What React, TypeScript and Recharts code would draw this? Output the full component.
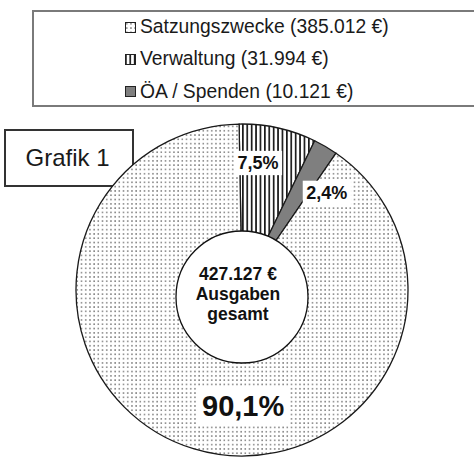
import React from "react";
import { PieChart, Pie, Cell } from "recharts";

// Ausgaben nach Bereich (Euro)
const categories = ["Satzungszwecke", "Verwaltung", "ÖA / Spenden"];
const amounts = [385012, 31994, 10121];
// Reihenfolge im Ring, im Uhrzeigersinn ab 12 Uhr
const ringOrder = ["Verwaltung", "ÖA / Spenden", "Satzungszwecke"];
const centerCaption = ["Ausgaben", "gesamt"];
const badgeTitle = "Grafik 1";

const total = amounts.reduce((s, v) => s + v, 0);

const fmtEuro = (n: number) =>
  String(n).replace(/\B(?=(\d{3})+(?!\d))/g, ".") + " €";

const fills: Record<string, string> = {
  Satzungszwecke: "url(#dots)",
  Verwaltung: "url(#stripes)",
  "ÖA / Spenden": "#7f7f7f",
};

// Lage der Prozentwerte (Winkelversatz zur Sektormitte, Radius, Schriftgröße)
const labelPos: Record<string, { shift: number; r: number; size: number }> = {
  Verwaltung: { shift: 5.3, r: 128, size: 18 },
  "ÖA / Spenden": { shift: -10.9, r: 129, size: 18 },
  Satzungszwecke: { shift: 17.3, r: 116, size: 29 },
};

const ringData = ringOrder.map((name) => ({
  name,
  value: amounts[categories.indexOf(name)],
}));
const centerData = [{ name: "gesamt", value: total }];

const FONT = '"Liberation Sans", Arial, Helvetica, sans-serif';
const RAD = Math.PI / 180;

// grobe Breite in em für Arial fett (Ziffern, Komma, Prozent)
const emWidth = (s: string) =>
  s.split("").reduce((w, c) => w + (c === "," ? 0.278 : c === "%" ? 0.889 : 0.556), 0);

const renderPercent = (props: any) => {
  const { cx, cy, midAngle, value, index } = props;
  const name = props.name ?? props.payload?.name;
  const pos = labelPos[name];
  if (!pos) return null;
  const a = (midAngle + pos.shift) * RAD;
  const x = cx + pos.r * Math.cos(a);
  const y = cy - pos.r * Math.sin(a);
  const txt = ((value / total) * 100).toFixed(1).replace(".", ",") + "%";
  const w = emWidth(txt) * pos.size + pos.size * 0.4;
  const h = pos.size * 1.35;
  return (
    <g key={`pct-${index}`}>
      <rect x={x - w / 2} y={y - h / 2} width={w} height={h} fill="#fff" />
      <text
        x={x}
        y={y}
        textAnchor="middle"
        dominantBaseline="central"
        fontFamily={FONT}
        fontWeight="bold"
        fontSize={pos.size}
        fill="#111"
      >
        {txt}
      </text>
    </g>
  );
};

const renderCenter = (props: any) => {
  const { cx, cy } = props;
  const lines = [fmtEuro(total), ...centerCaption];
  return (
    <text
      key="center"
      x={cx - 4}
      y={cy - 17}
      textAnchor="middle"
      fontFamily={FONT}
      fontWeight="bold"
      fontSize={17.5}
      fill="#111"
    >
      {lines.map((l, i) => (
        <tspan key={l} x={cx - 4} dy={i === 0 ? 0 : 20}>
          {l}
        </tspan>
      ))}
    </text>
  );
};

const CenterDisc = (props: any) => (
  <circle
    cx={props.cx}
    cy={props.cy}
    r={props.outerRadius}
    fill="#fff"
    stroke="#111"
    strokeWidth={1.3}
  />
);

const LegendIcon = ({ fill }: { fill: string }) => (
  <svg width={11} height={11} style={{ display: "block" }}>
    <rect x={0.5} y={0.5} width={10} height={10} fill={fill} stroke="#222" strokeWidth={1} />
  </svg>
);

const App: React.FC = () => {
  return (
    <div
      style={{
        position: "absolute",
        left: 0,
        top: 0,
        width: 474,
        height: 457,
        overflow: "hidden",
        background: "#fff",
        fontFamily: FONT,
      }}
    >
      {/* Legende */}
      <div
        style={{
          position: "absolute",
          left: 32,
          top: 10,
          width: 460,
          height: 97,
          border: "2px solid #7a7a7a",
          boxSizing: "border-box",
        }}
      >
        {categories.map((c, i) => (
          <div
            key={c}
            style={{
              position: "absolute",
              left: 91,
              top: -1 + i * 32.3,
              height: 32.3,
              display: "flex",
              alignItems: "center",
              whiteSpace: "nowrap",
              fontSize: 19.3,
              color: "#1a1a1a",
            }}
          >
            <LegendIcon fill={fills[c]} />
            <span style={{ marginLeft: 4 }}>{`${c} (${fmtEuro(amounts[i])})`}</span>
          </div>
        ))}
      </div>

      {/* Kasten "Grafik 1" liegt hinter dem Ring */}
      <div
        style={{
          position: "absolute",
          left: 4,
          top: 129,
          width: 130,
          height: 58,
          border: "2px solid #333",
          boxSizing: "border-box",
          display: "flex",
          alignItems: "center",
          justifyContent: "center",
          fontSize: 24,
          color: "#1a1a1a",
          paddingRight: 3,
        }}
      >
        {badgeTitle}
      </div>

      <div style={{ position: "absolute", left: 0, top: 0 }}>
        <PieChart width={474} height={457} margin={{ top: 0, right: 0, bottom: 0, left: 0 }}>
          <defs>
            <pattern id="dots" width={4.2} height={4.3} patternUnits="userSpaceOnUse">
              <rect width={4.2} height={4.3} fill="#fff" />
              <rect x={1} y={1} width={1.5} height={1.5} fill="#7a7a7a" />
            </pattern>
            <pattern id="stripes" width={4.4} height={10} patternUnits="userSpaceOnUse">
              <rect width={4.4} height={10} fill="#fff" />
              <rect x={0} y={0} width={1.7} height={10} fill="#1a1a1a" />
            </pattern>
          </defs>
          <Pie
            data={ringData}
            dataKey="value"
            nameKey="name"
            cx={242}
            cy={290}
            innerRadius={0}
            outerRadius={166}
            startAngle={91}
            endAngle={-269}
            stroke="#1a1a1a"
            strokeWidth={1.3}
            label={renderPercent}
            labelLine={false}
            isAnimationActive={false}
          >
            {ringData.map((d) => (
              <Cell key={d.name} fill={fills[d.name]} />
            ))}
          </Pie>
          <Pie
            data={centerData}
            dataKey="value"
            nameKey="name"
            cx={242}
            cy={297}
            innerRadius={0}
            outerRadius={66}
            shape={CenterDisc}
            label={renderCenter}
            labelLine={false}
            isAnimationActive={false}
          />
        </PieChart>
      </div>
    </div>
  );
};

export default App;
